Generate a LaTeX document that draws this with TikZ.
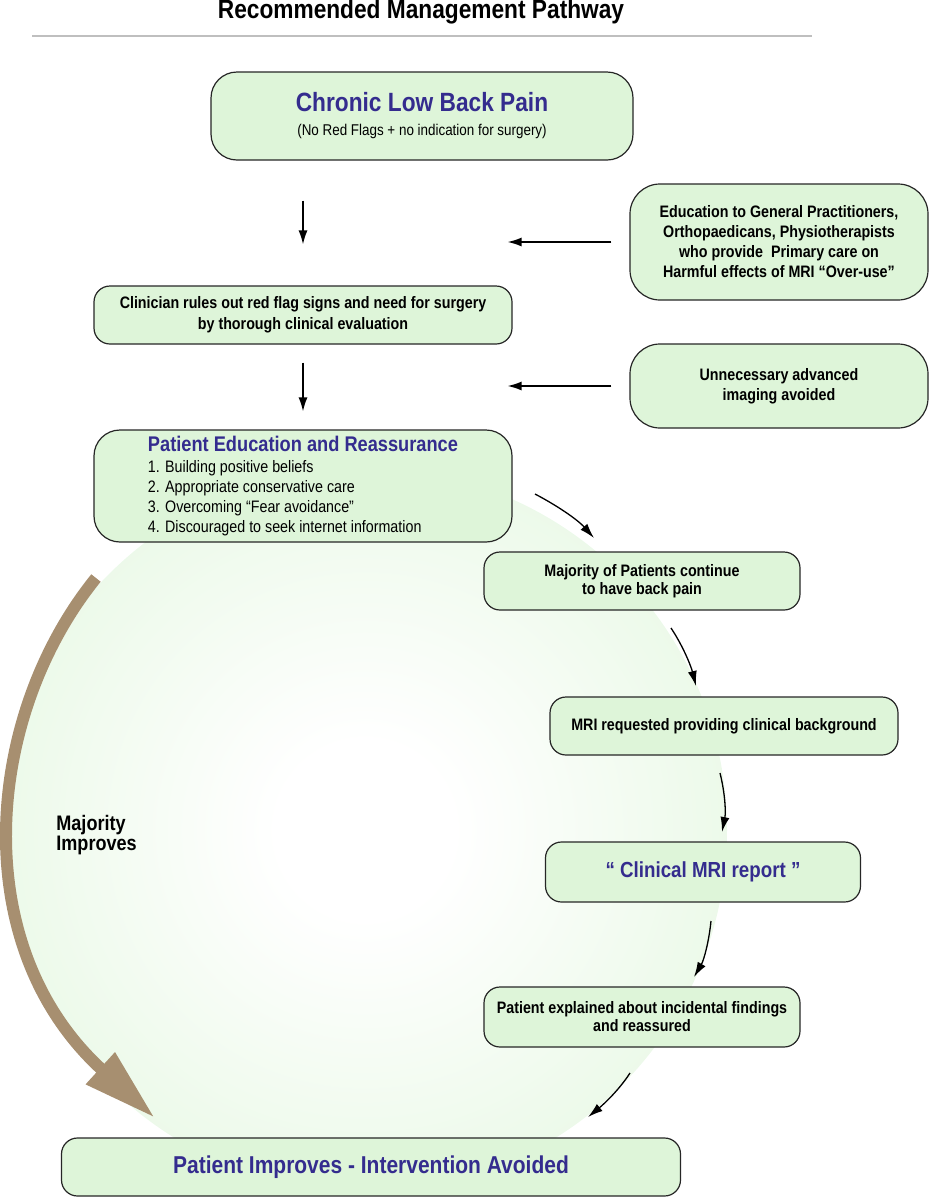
\documentclass[tikz,border=0pt]{standalone}
\usepackage{fontspec}
\setmainfont{Liberation Sans}[FakeStretch=0.86]
\usetikzlibrary{arrows.meta}
\definecolor{boxgreen}{RGB}{222,245,217}
\definecolor{ringgreen}{RGB}{212,242,206}
\definecolor{headblue}{RGB}{52,44,142}
\definecolor{pathbrown}{RGB}{167,143,112}
\pgfdeclareradialshading{ringglow}{\pgfpoint{0bp}{0bp}}{color(0bp)=(white);color(6bp)=(white);color(50bp)=(ringgreen);color(100bp)=(ringgreen)}

\begin{document}
\begin{tikzpicture}[x=0.5pt,y=-0.5pt,
  stepnode/.style={draw=black!85,line width=0.6pt,fill=boxgreen,rounded corners=8pt,align=center,inner sep=0pt,font=\bfseries\fontsize{8.3}{10}\selectfont},
  sidenode/.style={stepnode,rounded corners=15pt,minimum width=149pt},
  flow/.style={-{Latex[length=7pt,width=4.5pt]},line width=0.7pt},
  loopflow/.style={-{Latex[length=7.5pt,width=4.5pt]},line width=0.65pt}]
\useasboundingbox (0,0) rectangle (929,1200);
\node[font=\bfseries\fontsize{13.2}{15}\selectfont] (title) at (421,12) {Recommended Management Pathway};
\draw[black!25,line width=0.8pt] (32,36) -- (812,36);

\shade[shading=ringglow] (365,830) circle (362);
\draw[pathbrown,line width=6pt,-{Triangle[length=37pt,width=20pt]}] (96,578) .. controls (-15,715) and (-35,945) .. (155,1118);
\node[font=\bfseries\fontsize{10.5}{10}\selectfont,align=left,anchor=west,inner sep=0pt] (better) at (56,835) {Majority\\Improves};

\node[stepnode,rounded corners=13pt,minimum width=211pt,minimum height=44pt] (pain) at (422,116)
  {\textcolor{headblue}{\fontsize{13.2}{15}\selectfont Chronic Low Back Pain}\\[2pt]{\mdseries\fontsize{7.8}{10}\selectfont (No Red Flags + no indication for surgery)}};
\node[sidenode,minimum height=58pt] (gpedu) at (779,242)
  {Education to General Practitioners,\\Orthopaedicans, Physiotherapists\\who provide\ \ Primary care on\\Harmful effects of MRI “Over-use”};
\node[stepnode,minimum width=209pt,minimum height=29pt] (rule) at (303,315)
  {Clinician rules out red flag signs and need for surgery\\[0.5pt]by thorough clinical evaluation};
\node[sidenode,minimum height=42pt] (imaging) at (779,386) {Unnecessary advanced\\imaging avoided};
\node[stepnode,rounded corners=13pt,minimum width=209pt,minimum height=56pt,align=left] (educ) at (303,486)
  {\textcolor{headblue}{\fontsize{10.6}{12}\selectfont Patient Education and Reassurance}\\[0.5pt]
   {\mdseries 1. Building positive beliefs}\\{\mdseries 2. Appropriate conservative care}\\
   {\mdseries 3. Overcoming “Fear avoidance”}\\{\mdseries 4. Discouraged to seek internet information}};
\node[stepnode,minimum width=158pt,minimum height=29pt] (stillpain) at (642,581) {Majority of Patients continue\\[-1pt]to have back pain};
\node[stepnode,minimum width=174pt,minimum height=29pt] (mrireq) at (724,726) {MRI requested providing clinical background};
\node[stepnode,minimum width=157.5pt,minimum height=30pt,font=\bfseries\fontsize{10.9}{12}\selectfont,text=headblue] (report) at (703,872) {“ Clinical MRI report ”};
\node[stepnode,minimum width=158pt,minimum height=30pt] (explain) at (642,1017) {Patient explained about incidental findings\\[-1pt]and reassured};
\node[stepnode,minimum width=309.5pt,minimum height=29pt,font=\bfseries\fontsize{12.2}{14}\selectfont,text=headblue] (improve) at (371,1167) {Patient Improves - Intervention Avoided};

\draw[flow,shorten <=20pt,shorten >=20.5pt] (rule.north |- pain.south) -- (rule.north);
\draw[flow,shorten <=9pt,shorten >=9pt] (rule.south) -- (educ.north);
\draw[flow,shorten <=9pt,shorten >=-2.5pt] (gpedu.west) -- (rule.east |- gpedu.west);
\draw[flow,shorten <=9pt,shorten >=-2.5pt] (imaging.west) -- (rule.east |- imaging.west);

\coordinate (c1a) at (535,494);   \coordinate (c1b) at (594,538);
\coordinate (c2a) at (671,628);   \coordinate (c2b) at (696,686);
\coordinate (c3a) at (720,773);   \coordinate (c3b) at (722,832);
\coordinate (c4a) at (711,921);   \coordinate (c4b) at (694,977);
\coordinate (c5a) at (630,1073);  \coordinate (c5b) at (588,1117);
\draw[loopflow] (c1a) .. controls (556,505) and (577,519) .. (c1b);
\draw[loopflow] (c2a) .. controls (683,646) and (691,666) .. (c2b);
\draw[loopflow] (c3a) .. controls (725,793) and (726,812) .. (c3b);
\draw[loopflow] (c4a) .. controls (709,941) and (704,960) .. (c4b);
\draw[loopflow] (c5a) .. controls (619,1090) and (604,1104) .. (c5b);
\end{tikzpicture}
\end{document}
